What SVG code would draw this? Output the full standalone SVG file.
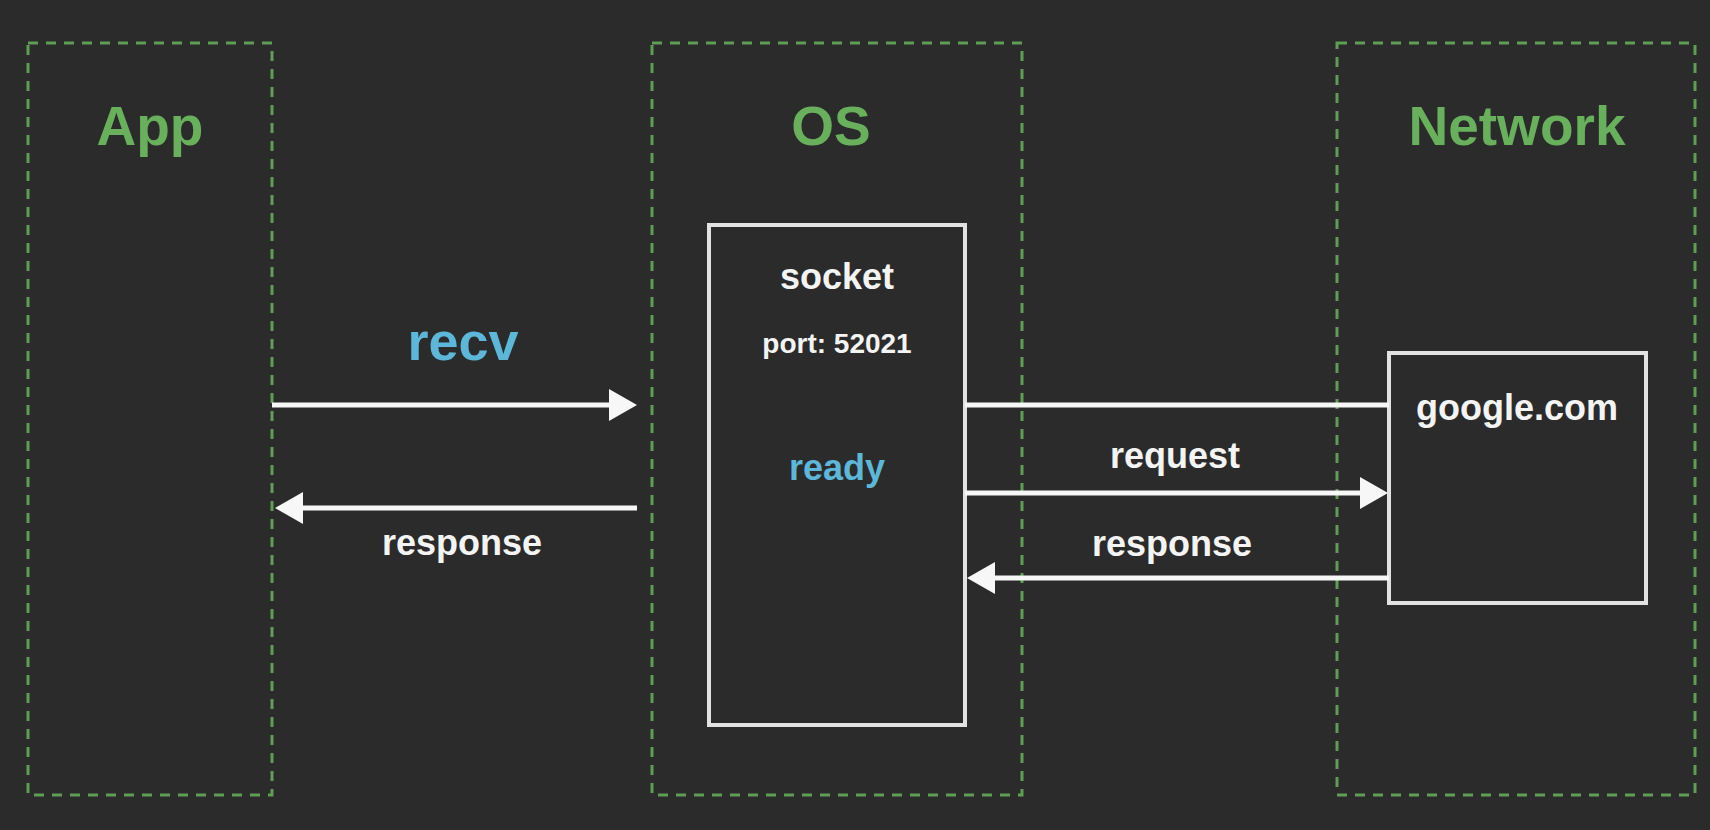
<svg xmlns="http://www.w3.org/2000/svg" width="1710" height="830" viewBox="0 0 1710 830">
  <defs>
    <style>
      .lane { fill: none; stroke: #5f9e54; stroke-width: 3; stroke-dasharray: 10 8; }
      .title { font-family: "Liberation Sans", Arial, sans-serif; font-weight: bold; font-size: 55px; fill: #68b05c; text-anchor: middle; }
      .box { fill: #2b2b2b; stroke: #e2e2e2; stroke-width: 4; }
      .lbl { font-family: "Liberation Sans", Arial, sans-serif; font-weight: bold; font-size: 36px; fill: #f4f4f4; text-anchor: middle; }
      .small { font-size: 28px; }
      .blue { fill: #5cb7d8; }
      .big { font-size: 54px; }
      .conn { stroke: #f7f7f7; stroke-width: 5; fill: none; }
    </style>
    <marker id="ah" markerUnits="userSpaceOnUse" markerWidth="28" markerHeight="32" refX="0" refY="16" orient="auto" viewBox="0 0 28 32">
      <path d="M0,0 L28,16 L0,32 Z" fill="#f7f7f7"/>
    </marker>
  </defs>
  <rect width="1710" height="830" fill="#2b2b2b"/>

  <g id="app">
    <rect class="lane" x="28" y="43" width="244" height="752"/>
    <text class="title" x="150" y="145">App</text>
  </g>

  <g id="os">
    <rect class="lane" x="652" y="43" width="370" height="752"/>
    <text class="title" x="831" y="145">OS</text>
  </g>

  <g id="network">
    <rect class="lane" x="1337" y="43" width="358" height="752"/>
    <text class="title" x="1517" y="145">Network</text>
  </g>

  <g id="socket">
    <rect class="box" x="709" y="225" width="256" height="500"/>
    <text class="lbl" x="837" y="289">socket</text>
    <text class="lbl small" x="837" y="353">port: 52021</text>
    <text class="lbl blue" x="837" y="480">ready</text>
  </g>

  <g id="google">
    <rect class="box" x="1389" y="353" width="257" height="250"/>
    <text class="lbl" x="1517" y="420">google.com</text>
  </g>

  <g id="connectors">
    <line class="conn" x1="272" y1="405" x2="609" y2="405" marker-end="url(#ah)"/>
    <text class="lbl blue big" x="463" y="360">recv</text>

    <line class="conn" x1="637" y1="508" x2="303" y2="508" marker-end="url(#ah)"/>
    <text class="lbl" x="462" y="555">response</text>

    <line class="conn" x1="965" y1="405" x2="1389" y2="405"/>

    <line class="conn" x1="965" y1="493" x2="1360" y2="493" marker-end="url(#ah)"/>
    <text class="lbl" x="1175" y="468">request</text>

    <line class="conn" x1="1389" y1="578" x2="995" y2="578" marker-end="url(#ah)"/>
    <text class="lbl" x="1172" y="556">response</text>
  </g>
</svg>
